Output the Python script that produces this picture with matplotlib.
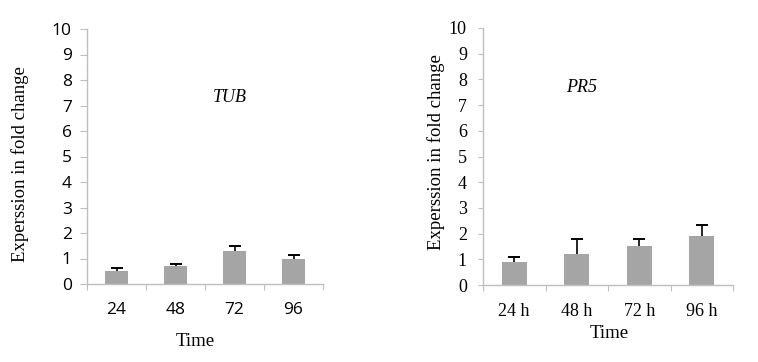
import matplotlib
matplotlib.use("Agg")
import matplotlib.pyplot as plt
import numpy as np

tub_labels = ["24", "48", "72", "96"]
tub_values = [0.5, 0.7, 1.3, 1.0]
tub_err = [0.12, 0.1, 0.2, 0.12]

pr5_labels = ["24 h", "48 h", "72 h", "96 h"]
pr5_values = [0.9, 1.2, 1.5, 1.9]
pr5_err = [0.2, 0.6, 0.3, 0.45]

SERIF = "Liberation Serif"
SANS = "Open Sans"
BAR = "#a5a5a5"
AX = "#bfbfbf"

fig = plt.figure(figsize=(7.58, 3.62), dpi=100)
ax1 = fig.add_axes([87/758, 1-284/362, (323-87)/758, (284-29)/362])
ax2 = fig.add_axes([483/758, 1-285/362, (733-483)/758, (285-28)/362])

def style(ax, labels, values, err, tickfont, tsize, ylen, ypad, title, tx, ty):
    x = np.arange(len(labels))
    ax.bar(x, values, width=0.4, color=BAR, zorder=2)
    eb = ax.errorbar(x, values, yerr=[np.zeros(len(err)), err], fmt="none",
                     ecolor="black", elinewidth=1.2, capsize=4, capthick=1.4, zorder=3)
    caps = eb[1]
    if len(caps) == 2:
        caps[0].set_visible(False)
    ax.set_xlim(-0.5, len(labels) - 0.5)
    ax.set_ylim(0, 10)
    ax.set_yticks(range(0, 11))
    ax.set_yticklabels([str(i) for i in range(11)], fontfamily=tickfont, fontsize=tsize)
    ax.set_xticks(np.arange(-0.5, len(labels), 1.0))
    ax.set_xticklabels([""] * (len(labels) + 1))
    ax.set_xticks(x, minor=True)
    ax.set_xticklabels(labels, minor=True, fontfamily=tickfont, fontsize=tsize)
    ax.tick_params(axis="x", which="major", length=4, color=AX, direction="out")
    ax.tick_params(axis="x", which="minor", length=0, pad=13)
    ax.tick_params(axis="y", length=ylen, color=AX, direction="out", pad=ypad)
    for s in ["top", "right"]:
        ax.spines[s].set_visible(False)
    for s in ["left", "bottom"]:
        ax.spines[s].set_color(AX)
        ax.spines[s].set_linewidth(1.0)
    ax.text(tx, ty, title, transform=ax.transAxes, fontfamily=SERIF,
            fontstyle="italic", fontsize=13, ha="center", va="center")

style(ax1, tub_labels, tub_values, tub_err, SANS, 12.5, 5, 6, "TUB",
      (230-87)/(323-87), (284-97)/(284-29))
style(ax2, pr5_labels, pr5_values, pr5_err, SERIF, 13, 3.6, 8, "PR5",
      (582-483)/(733-483), (285-88)/(285-28))

fig.text(20/758, 1-164/362, "Experssion in fold change", rotation=90,
         fontfamily=SERIF, fontsize=13.5, ha="center", va="center")
fig.text(436/758, 1-152/362, "Experssion in fold change", rotation=90,
         fontfamily=SERIF, fontsize=13.5, ha="center", va="center")
fig.text(195/758, 1-342/362, "Time", fontfamily=SERIF, fontsize=13.5,
         ha="center", va="center")
fig.text(609/758, 1-333/362, "Time", fontfamily=SERIF, fontsize=13.5,
         ha="center", va="center")

fig.savefig("out.png", dpi=100, facecolor="white")
